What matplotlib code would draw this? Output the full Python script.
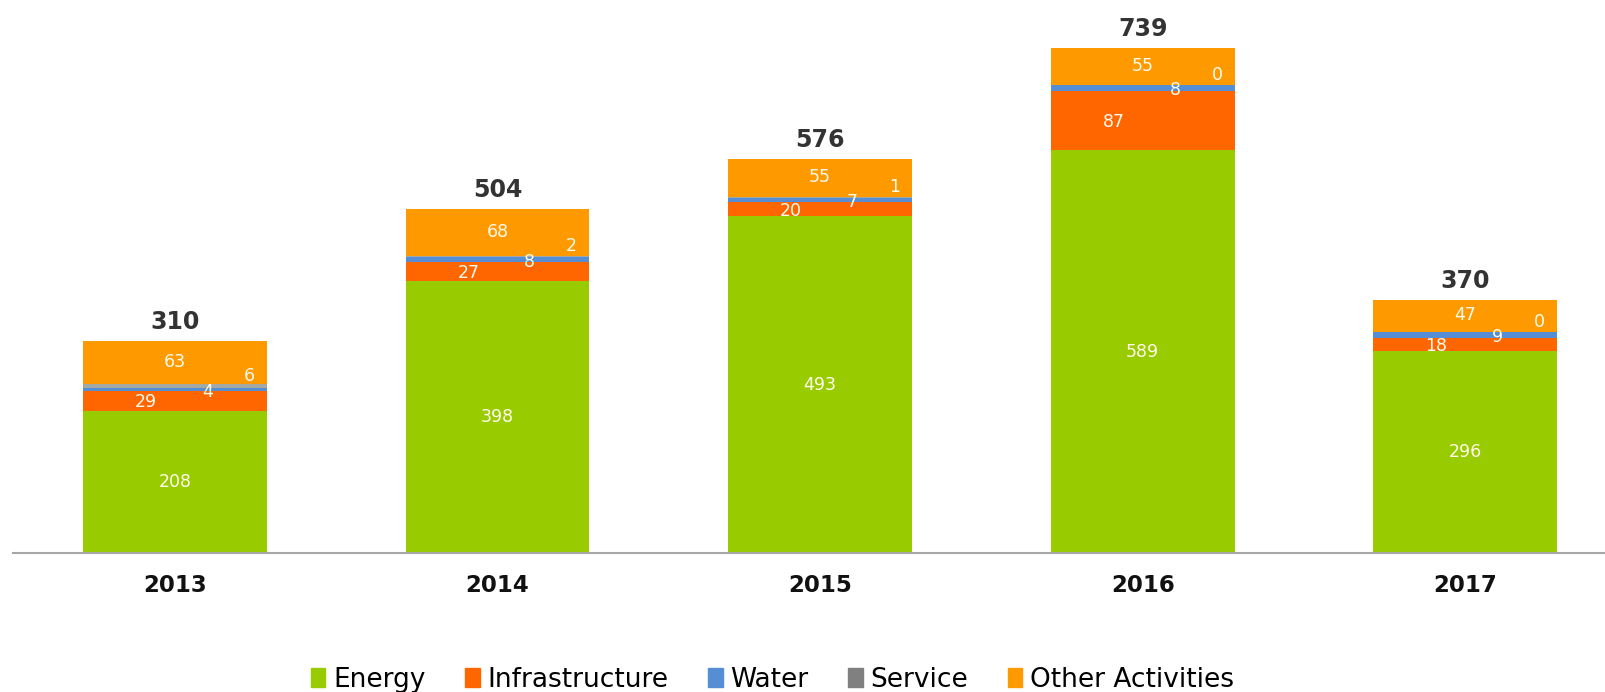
import matplotlib.pyplot as plt
import matplotlib.patches as mpatches
import numpy as np

years = ["2013", "2014", "2015", "2016", "2017"]
energy = [208, 398, 493, 589, 296]
infrastructure = [29, 27, 20, 87, 18]
water = [4, 8, 7, 8, 9]
service = [6, 2, 1, 0, 0]
other = [63, 68, 55, 55, 47]
totals = [310, 504, 576, 739, 370]

names = ["Energy", "Infrastructure", "Water", "Service", "Other Activities"]
colors = ["#99cc00", "#ff6600", "#558ed5", "#a3a8a3", "#ff9900"]
legend_colors = ["#99cc00", "#ff6600", "#558ed5", "#808080", "#ff9900"]
series = [energy, infrastructure, water, service, other]

# label placement per series: (x offset in bar units, y offset in data units)
label_offsets = [(0.0, 0), (-0.09, -2), (0.10, -3), (0.23, 15), (0.0, 1)]

fig = plt.figure(figsize=(16.06, 6.92), dpi=100)
ax = fig.add_axes([13 / 1606, 139 / 692, 1 - 13 / 1606, 553 / 692])

x = np.arange(len(years))
width = 0.57
bottom = np.zeros(len(years))

for vals, name, col, (dx, dy) in zip(series, names, colors, label_offsets):
    vals = np.array(vals, dtype=float)
    ax.bar(x, vals, width, bottom=bottom, color=col, label=name, zorder=2)
    for i, v in enumerate(vals):
        if name == "Service" and years[i] in ("2016", "2017"):
            ty = bottom[i] + v + dy
        else:
            ty = bottom[i] + v / 2 + dy
        ax.text(x[i] + dx, ty, f"{int(v)}", ha="center", va="center",
                color="#fffbee", fontsize=12.5, zorder=3)
    bottom += vals

for i, t in enumerate(totals):
    ax.annotate(str(t), (x[i], bottom[i]), xytext=(0, 5), textcoords="offset points",
                ha="center", va="bottom", fontsize=17, fontweight="bold", color="#333333")

ax.set_xlim(-0.502, 4.436)
ax.set_ylim(0, 809)
ax.set_xticks(x)
ax.set_xticklabels(years, fontsize=16.5, fontweight="bold", color="#111111")
ax.tick_params(axis="x", length=0, pad=15)
ax.set_yticks([])
for s in ["top", "right", "left"]:
    ax.spines[s].set_visible(False)
ax.spines["bottom"].set_color("#a6a6a6")
ax.spines["bottom"].set_linewidth(1.5)

handles = [mpatches.Patch(color=c, label=n) for c, n in zip(legend_colors, names)]
fig.legend(handles=handles, loc="center", bbox_to_anchor=(0.481, 0.018), ncol=5,
           frameon=False, handlelength=0.55, handleheight=0.75,
           handletextpad=0.3, columnspacing=1.5,
           prop={"family": "DejaVu Sans", "size": 19})

fig.savefig("out.png", dpi=100)
